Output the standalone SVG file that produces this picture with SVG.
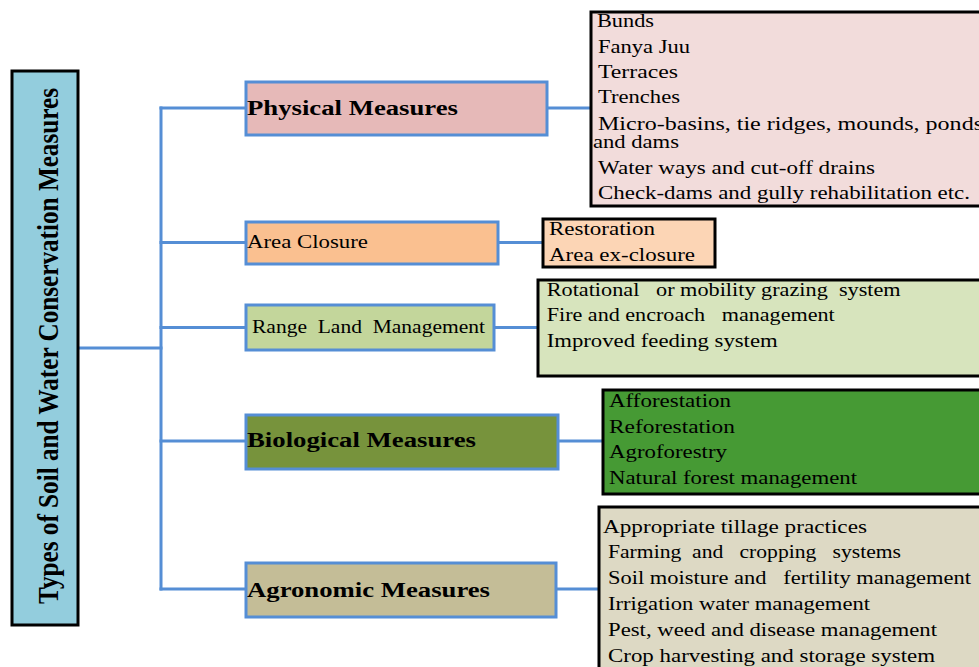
<svg xmlns="http://www.w3.org/2000/svg" width="979" height="667" viewBox="0 0 979 667">
<style>
text{font-family:"Liberation Serif","Times New Roman",serif;fill:#000}
.it{font-size:18px}
.cat{stroke:#558ED5;stroke-width:3}
.det{stroke:#000;stroke-width:3}
.b{font-weight:bold;font-size:20px}
.conn line{stroke:#558ED5;stroke-width:3;stroke-linecap:square}
</style>
<rect width="979" height="667" fill="#fff"/>
<g class="conn" id="connectors">
<line x1="78" y1="348" x2="161" y2="348"/>
<line x1="161" y1="108" x2="161" y2="589"/>
<line x1="161" y1="108" x2="246" y2="108"/>
<line x1="161" y1="242.5" x2="246" y2="242.5"/>
<line x1="161" y1="327.5" x2="246" y2="327.5"/>
<line x1="161" y1="441" x2="246" y2="441"/>
<line x1="161" y1="589" x2="246" y2="589"/>
<line x1="547" y1="108" x2="591" y2="108"/>
<line x1="498" y1="242.5" x2="543" y2="242.5"/>
<line x1="494" y1="327.5" x2="538" y2="327.5"/>
<line x1="558" y1="441" x2="603" y2="441"/>
<line x1="556" y1="589" x2="599" y2="589"/>
</g>
<g id="root">
<rect x="12" y="71" width="66" height="554" fill="#93CDDD" stroke="#000" stroke-width="3"/>
<text transform="translate(58,346) rotate(-90)" text-anchor="middle" font-weight="bold" font-size="30" textLength="516" lengthAdjust="spacingAndGlyphs">Types of Soil and Water Conservation Measures</text>
</g>
<g id="physical">
<rect class="cat" x="246" y="82" width="301" height="53" fill="#E6B9B8"/>
<text class="b" x="247" y="114.5" textLength="211" lengthAdjust="spacingAndGlyphs">Physical Measures</text>
</g>
<g id="physical-details">
<rect class="det" x="591" y="12" width="420" height="194" fill="#F2DCDB"/>
<text class="it" x="597" y="26.7" textLength="57" lengthAdjust="spacingAndGlyphs">Bunds</text>
<text class="it" x="598" y="53" textLength="92" lengthAdjust="spacingAndGlyphs">Fanya Juu</text>
<text class="it" x="598" y="77.7" textLength="80" lengthAdjust="spacingAndGlyphs">Terraces</text>
<text class="it" x="598" y="103" textLength="82" lengthAdjust="spacingAndGlyphs">Trenches</text>
<text class="it" x="598" y="130" textLength="385" lengthAdjust="spacingAndGlyphs">Micro-basins, tie ridges, mounds, ponds</text>
<text class="it" x="593" y="148" textLength="86" lengthAdjust="spacingAndGlyphs">and dams</text>
<text class="it" x="598" y="174" textLength="277" lengthAdjust="spacingAndGlyphs">Water ways and cut-off drains</text>
<text class="it" x="598" y="199" textLength="372" lengthAdjust="spacingAndGlyphs">Check-dams and gully rehabilitation etc.</text>
</g>
<g id="area">
<rect class="cat" x="246" y="222" width="252" height="42" fill="#FAC090"/>
<text class="it" x="247" y="247.7" textLength="121" lengthAdjust="spacingAndGlyphs">Area Closure</text>
</g>
<g id="area-details">
<rect class="det" x="543" y="219" width="172" height="48" fill="#FCD5B5"/>
<text class="it" x="549" y="235" textLength="106" lengthAdjust="spacingAndGlyphs">Restoration</text>
<text class="it" x="549" y="260.7" textLength="146" lengthAdjust="spacingAndGlyphs">Area ex-closure</text>
</g>
<g id="range">
<rect class="cat" x="246" y="305" width="248" height="45" fill="#C3D69B"/>
<text class="it" x="252" y="333" textLength="233" lengthAdjust="spacingAndGlyphs" xml:space="preserve">Range  Land  Management</text>
</g>
<g id="range-details">
<rect class="det" x="538" y="280" width="460" height="96" fill="#D7E4BD"/>
<text class="it" x="546.7" y="296" textLength="354" lengthAdjust="spacingAndGlyphs" xml:space="preserve">Rotational   or mobility grazing  system</text>
<text class="it" x="546.7" y="321" textLength="288" lengthAdjust="spacingAndGlyphs" xml:space="preserve">Fire and encroach   management</text>
<text class="it" x="546.7" y="346.7" textLength="231" lengthAdjust="spacingAndGlyphs">Improved feeding system</text>
</g>
<g id="biological">
<rect class="cat" x="246" y="415" width="312" height="54" fill="#77933C"/>
<text class="b" x="247" y="447" textLength="229" lengthAdjust="spacingAndGlyphs">Biological Measures</text>
</g>
<g id="biological-details">
<rect class="det" x="603" y="390" width="400" height="104" fill="#469A34"/>
<text class="it" x="609" y="407" textLength="122" lengthAdjust="spacingAndGlyphs">Afforestation</text>
<text class="it" x="609" y="433" textLength="126" lengthAdjust="spacingAndGlyphs">Reforestation</text>
<text class="it" x="609" y="458" textLength="118" lengthAdjust="spacingAndGlyphs">Agroforestry</text>
<text class="it" x="609" y="484" textLength="248" lengthAdjust="spacingAndGlyphs">Natural forest management</text>
</g>
<g id="agronomic">
<rect class="cat" x="246" y="563" width="310" height="54" fill="#C4BD97"/>
<text class="b" x="247" y="597" textLength="243" lengthAdjust="spacingAndGlyphs">Agronomic Measures</text>
</g>
<g id="agronomic-details">
<rect class="det" x="599" y="507" width="400" height="190" fill="#DDD9C4"/>
<text class="it" x="603" y="533" textLength="264" lengthAdjust="spacingAndGlyphs">Appropriate tillage practices</text>
<text class="it" x="608" y="558" textLength="293" lengthAdjust="spacingAndGlyphs" xml:space="preserve">Farming  and   cropping   systems</text>
<text class="it" x="608" y="584" textLength="363" lengthAdjust="spacingAndGlyphs" xml:space="preserve">Soil moisture and   fertility management</text>
<text class="it" x="608" y="610" textLength="262" lengthAdjust="spacingAndGlyphs">Irrigation water management</text>
<text class="it" x="608" y="636" textLength="329" lengthAdjust="spacingAndGlyphs">Pest, weed and disease management</text>
<text class="it" x="608" y="661.7" textLength="327" lengthAdjust="spacingAndGlyphs">Crop harvesting and storage system</text>
</g>
</svg>
